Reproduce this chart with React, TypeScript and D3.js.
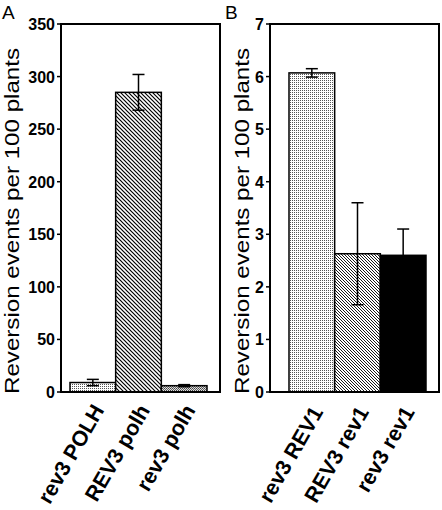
import React from "react";
import * as d3 from "d3";

const catsA = ["rev3 POLH", "REV3 polh", "rev3 polh"];
const valsA = [9, 285, 6];
const errA = [3, 17, 1];
const ticksA = [0, 50, 100, 150, 200, 250, 300, 350];

const catsB = ["rev3 REV1", "REV3 rev1", "rev3 rev1"];
const valsB = [6.07, 2.63, 2.6];
const errB = [0.08, 0.97, 0.5];
const ticksB = [0, 1, 2, 3, 4, 5, 6, 7];

const fillsA = ["url(#dots)", "url(#hatchWide)", "url(#check)"];
const fillsB = ["url(#dots)", "url(#hatchFine)", "#000"];

const FONT = "'Liberation Sans', Arial, Helvetica, sans-serif";
const TOP = 24;
const BOTTOM = 392;
const K = 1.15;

type PanelProps = {
  letter: string;
  cats: string[];
  vals: number[];
  errs: number[];
  ticks: number[];
  fills: string[];
  boxLeft: number;
  boxRight: number;
  barStart: number;
  barEnd: number;
  yMax: number;
  labelX: number;
  letterX: number;
  catY: number;
};

function Panel(p: PanelProps) {
  const y = d3.scaleLinear().domain([0, p.yMax]).range([BOTTOM, TOP]);
  const x = d3.scaleBand<string>().domain(p.cats).range([p.barStart, p.barEnd]).padding(0);
  const bw = x.bandwidth();
  return (
    <g>
      <text x={p.letterX} y={19} fontFamily={FONT} fontSize={19}>{p.letter}</text>
      <text
        transform={`translate(${p.labelX},${(TOP + BOTTOM) / 2 + 13}) scale(1,${K}) rotate(-90)`}
        textAnchor="middle"
        fontFamily={FONT}
        fontSize={21}
      >
        Reversion events per 100 plants
      </text>
      {p.ticks.map((t) => (
        <g key={t}>
          <line x1={p.boxLeft - 4} x2={p.boxLeft} y1={y(t)} y2={y(t)} stroke="#000" strokeWidth={1.5} />
          <text
            x={p.boxLeft - 6}
            y={y(t) + 6}
            textAnchor="end"
            fontFamily={FONT}
            fontWeight="bold"
            fontSize={16}
          >
            {t}
          </text>
        </g>
      ))}
      {p.cats.map((c, i) => {
        const x0 = x(c)!;
        const cx = x0 + bw / 2;
        return (
          <g key={c}>
            <rect
              x={x0}
              y={y(p.vals[i])}
              width={bw}
              height={BOTTOM - y(p.vals[i])}
              fill={p.fills[i]}
              stroke="#000"
              strokeWidth={1.5}
            />
            <line x1={cx} x2={cx} y1={y(p.vals[i] + p.errs[i])} y2={y(p.vals[i] - p.errs[i])} stroke="#000" strokeWidth={1.5} />
            <line x1={cx - 6} x2={cx + 6} y1={y(p.vals[i] + p.errs[i])} y2={y(p.vals[i] + p.errs[i])} stroke="#000" strokeWidth={1.5} />
            <line x1={cx - 6} x2={cx + 6} y1={y(p.vals[i] - p.errs[i])} y2={y(p.vals[i] - p.errs[i])} stroke="#000" strokeWidth={1.5} />
            <text
              transform={`translate(${cx + 12},${p.catY}) rotate(-60)`}
              textAnchor="end"
              fontFamily={FONT}
              fontWeight="bold"
              fontSize={21.5}
            >
              {c}
            </text>
          </g>
        );
      })}
      <rect
        x={p.boxLeft}
        y={TOP}
        width={p.boxRight - p.boxLeft}
        height={BOTTOM - TOP}
        fill="none"
        stroke="#000"
        strokeWidth={2}
      />
    </g>
  );
}

export default function App() {
  return (
    <svg width={442} height={510} style={{ position: "absolute", left: 0, top: 0 }}>
      <defs>
        <pattern id="dots" width={2} height={2} patternUnits="userSpaceOnUse">
          <rect width={2} height={2} fill="#fff" />
          <rect width={1} height={1} fill="#555" />
        </pattern>
        <pattern id="check" width={2} height={2} patternUnits="userSpaceOnUse">
          <rect width={2} height={2} fill="#ddd" />
          <rect width={1} height={1} fill="#444" />
          <rect x={1} y={1} width={1} height={1} fill="#666" />
        </pattern>
        <pattern id="hatchWide" width={4} height={4} patternUnits="userSpaceOnUse">
          <rect width={4} height={4} fill="#fff" />
          <path d="M-1,-1 L5,5 M-1,3 L1,5 M3,-1 L5,1" stroke="#000" strokeWidth={1.2} />
        </pattern>
        <pattern id="hatchFine" width={3} height={3} patternUnits="userSpaceOnUse">
          <rect width={3} height={3} fill="#fff" />
          <path d="M-1,-1 L4,4 M-1,2 L1,4 M2,-1 L4,1" stroke="#000" strokeWidth={0.9} />
        </pattern>
      </defs>
      <Panel
        letter="A"
        cats={catsA}
        vals={valsA}
        errs={errA}
        ticks={ticksA}
        fills={fillsA}
        boxLeft={61}
        boxRight={220}
        barStart={70}
        barEnd={207}
        yMax={350}
        labelX={19}
        letterX={2}
        catY={410}
      />
      <Panel
        letter="B"
        cats={catsB}
        vals={valsB}
        errs={errB}
        ticks={ticksB}
        fills={fillsB}
        boxLeft={270}
        boxRight={439}
        barStart={289}
        barEnd={426}
        yMax={7}
        labelX={249}
        letterX={225}
        catY={412}
      />
    </svg>
  );
}
